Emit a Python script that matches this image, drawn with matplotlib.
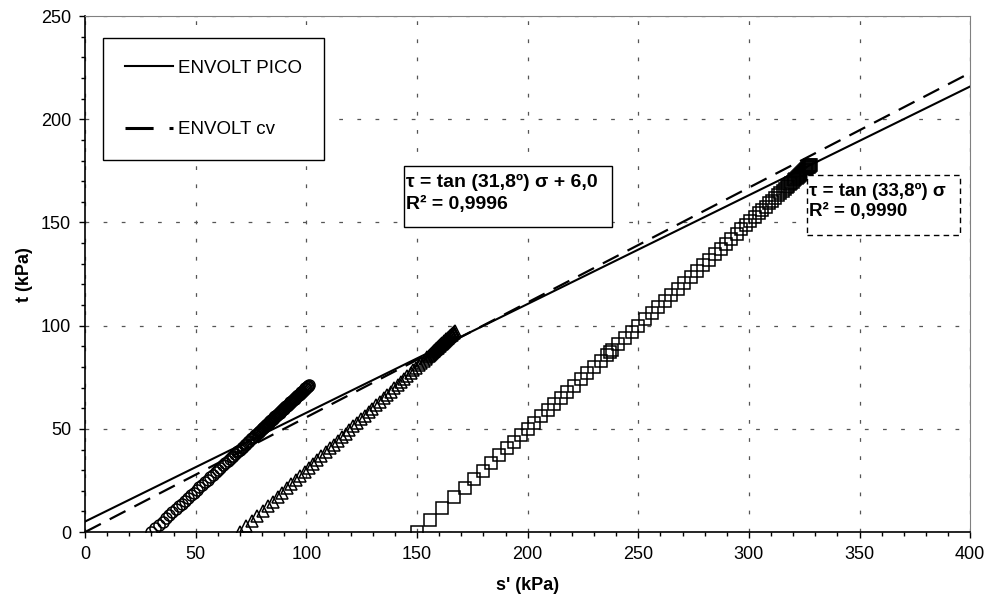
import matplotlib
matplotlib.use('Agg')
import matplotlib.pyplot as plt
from matplotlib.patches import Rectangle
from matplotlib.lines import Line2D
from matplotlib.ticker import MultipleLocator

plt.rcParams['font.family'] = ['Liberation Sans', 'DejaVu Sans']

# stress path 1 (circles), s' and t in kPa
circ_s = [30.0, 31.7, 33.4, 35.0, 36.6, 38.1, 39.5, 41.0, 42.4, 43.8,
          45.2, 46.5, 47.8, 49.1, 50.4, 51.7, 53.0, 54.2, 55.4, 56.6,
          57.8, 59.0, 60.1, 61.2, 62.3, 63.4, 64.5, 65.4, 66.2, 67.0,
          67.8, 68.6, 69.3, 70.0, 70.7, 71.4, 72.1, 72.8, 73.5, 74.2,
          74.9, 75.6, 76.3, 77.0, 77.6, 78.0, 78.4, 78.7, 79.1, 79.5,
          79.9, 80.3, 80.6, 81.0, 81.4, 81.8, 82.2, 82.5, 82.9, 83.3,
          83.7, 84.1, 84.4, 84.8, 85.2, 85.6, 86.0, 86.3, 86.7, 87.1,
          87.5, 87.9, 88.2, 88.6, 89.0, 89.4, 89.8, 90.1, 90.5, 90.9,
          91.3, 91.7, 92.0, 92.4, 92.8, 93.2, 93.6, 93.9, 94.3, 94.7,
          95.1, 95.5, 95.8, 96.2, 96.6, 97.0, 97.4, 97.7, 98.1, 98.5,
          98.9, 99.3, 99.6, 100.0, 100.3, 100.6, 100.9, 101.1]
circ_t = [0.0, 1.8, 3.5, 5.1, 6.6, 8.1, 9.6, 11.0, 12.4, 13.8,
          15.2, 16.5, 17.8, 19.1, 20.4, 21.7, 23.0, 24.2, 25.4, 26.6,
          27.8, 29.0, 30.1, 31.2, 32.3, 33.4, 34.5, 35.4, 36.2, 37.0,
          37.8, 38.6, 39.3, 40.0, 40.7, 41.4, 42.1, 42.8, 43.5, 44.2,
          44.9, 45.6, 46.3, 47.0, 47.6, 48.0, 48.4, 48.7, 49.1, 49.5,
          49.9, 50.3, 50.6, 51.0, 51.4, 51.8, 52.2, 52.5, 52.9, 53.3,
          53.7, 54.1, 54.4, 54.8, 55.2, 55.6, 56.0, 56.3, 56.7, 57.1,
          57.5, 57.9, 58.2, 58.6, 59.0, 59.4, 59.8, 60.1, 60.5, 60.9,
          61.3, 61.7, 62.0, 62.4, 62.8, 63.2, 63.6, 63.9, 64.3, 64.7,
          65.1, 65.5, 65.8, 66.2, 66.6, 67.0, 67.4, 67.7, 68.1, 68.5,
          68.9, 69.3, 69.6, 70.0, 70.3, 70.6, 70.9, 71.1]

# stress path 2 (triangles)
tri_s = [70.0, 72.8, 75.4, 77.9, 80.3, 82.6, 84.8, 87.0, 89.1, 91.2,
         93.2, 95.2, 97.2, 99.2, 101.1, 103.0, 104.9, 106.8, 108.7, 110.5,
         112.3, 114.1, 115.9, 117.7, 119.5, 121.3, 123.0, 124.7, 126.4, 128.1,
         129.8, 131.5, 133.2, 134.9, 136.5, 138.1, 139.7, 141.3, 142.8, 144.3,
         145.7, 147.1, 148.4, 149.7, 150.9, 152.0, 153.0, 153.9, 154.7, 155.4,
         156.0, 156.4, 156.8, 157.2, 157.6, 157.9, 158.2, 158.5, 158.8, 159.1,
         159.4, 159.7, 160.0, 160.3, 160.6, 160.9, 161.2, 161.5, 161.8, 162.1,
         162.4, 162.7, 163.0, 163.3, 163.6, 163.9, 164.2, 164.5, 164.8, 165.1,
         165.4, 165.7, 166.0, 166.3, 166.6, 166.9, 167.2]
tri_t = [0.0, 2.8, 5.4, 7.9, 10.3, 12.6, 14.8, 17.0, 19.1, 21.2,
         23.2, 25.2, 27.2, 29.2, 31.1, 33.0, 34.9, 36.8, 38.7, 40.5,
         42.3, 44.1, 45.9, 47.7, 49.5, 51.3, 53.0, 54.7, 56.4, 58.1,
         59.8, 61.5, 63.2, 64.9, 66.5, 68.1, 69.7, 71.3, 72.8, 74.3,
         75.7, 77.1, 78.4, 79.7, 80.9, 82.0, 83.0, 83.9, 84.7, 85.4,
         86.0, 86.4, 86.8, 87.2, 87.6, 87.9, 88.2, 88.5, 88.8, 89.1,
         89.4, 89.7, 90.0, 90.3, 90.6, 90.9, 91.2, 91.5, 91.8, 92.1,
         92.4, 92.7, 93.0, 93.3, 93.6, 93.9, 94.2, 94.5, 94.8, 95.1,
         95.4, 95.7, 96.0, 96.3, 96.6, 96.9, 97.2]

# stress path 3 (squares)
sq_s = [150.0, 155.8, 161.5, 166.9, 171.5, 175.8, 179.8, 183.6, 187.2, 190.6,
        193.8, 196.9, 200.0, 203.0, 206.0, 209.0, 212.0, 215.0, 218.0, 221.0,
        224.0, 227.0, 230.0, 233.0, 236.0, 237.2, 238.2, 241.0, 244.0, 247.0,
        250.0, 253.0, 256.0, 259.0, 262.0, 265.0, 268.0, 270.8, 273.6, 276.4,
        279.2, 282.0, 284.6, 287.2, 289.7, 292.1, 294.4, 296.6, 298.7, 300.7,
        302.6, 304.4, 306.1, 307.7, 309.2, 310.6, 311.9, 313.1, 314.2, 315.2,
        316.1, 317.0, 317.8, 318.5, 319.2, 319.8, 320.4, 321.0, 321.6, 322.1,
        322.6, 323.1, 323.6, 324.0, 324.4, 324.8, 325.2, 325.6, 326.0, 326.4,
        326.8, 327.1, 327.4, 327.7, 328.0]
sq_t = [0.0, 5.8, 11.5, 16.9, 21.5, 25.8, 29.8, 33.6, 37.2, 40.6,
        43.8, 46.9, 50.0, 53.0, 56.0, 59.0, 62.0, 65.0, 68.0, 71.0,
        74.0, 77.0, 80.0, 83.0, 86.0, 87.2, 88.2, 91.0, 94.0, 97.0,
        100.0, 103.0, 106.0, 109.0, 112.0, 115.0, 118.0, 120.8, 123.6, 126.4,
        129.2, 132.0, 134.6, 137.2, 139.7, 142.1, 144.4, 146.6, 148.7, 150.7,
        152.6, 154.4, 156.1, 157.7, 159.2, 160.6, 161.9, 163.1, 164.2, 165.2,
        166.1, 167.0, 167.8, 168.5, 169.2, 169.8, 170.4, 171.0, 171.6, 172.1,
        172.6, 173.1, 173.6, 174.0, 174.4, 174.8, 175.2, 175.6, 176.0, 176.4,
        176.8, 177.1, 177.4, 177.7, 178.0]

# failure envelopes
env_s = [0, 400]
pico_t = [5.1, 215.9]
cv_t = [0.0, 222.5]

fig = plt.figure(figsize=(9.89, 6.06), dpi=100)
ax = fig.add_axes([0.086, 0.122, 0.895, 0.8515])

mk = dict(linestyle='none', markerfacecolor='none', markeredgecolor='black', markeredgewidth=1.1)
ax.plot(circ_s, circ_t, marker='o', markersize=8, **mk)
ax.plot(tri_s, tri_t, marker='^', markersize=9, **mk)
ax.plot(sq_s, sq_t, marker='s', markersize=8.5, **mk)

ax.plot(env_s, pico_t, color='black', lw=1.5)
ax.plot(env_s, cv_t, color='black', lw=1.6, dashes=(8, 4.5))

ax.set_xlim(0, 400)
ax.set_ylim(0, 250)
ax.xaxis.set_major_locator(MultipleLocator(50))
ax.xaxis.set_minor_locator(MultipleLocator(10))
ax.yaxis.set_major_locator(MultipleLocator(50))
ax.yaxis.set_minor_locator(MultipleLocator(10))
ax.grid(True, which='major', color='#555555', linestyle=(0, (3, 11.5)), linewidth=0.9)
ax.tick_params(which='major', direction='out', length=4, width=1, labelsize=13, pad=6)
ax.tick_params(which='minor', direction='out', length=3, width=1)
for side in ['top', 'right']:
    ax.spines[side].set_color('#808080')
for side in ['left', 'bottom']:
    ax.spines[side].set_linewidth(1.2)

ax.set_xlabel("s' (kPa)", fontsize=13, fontweight='bold', labelpad=10)
ax.set_ylabel('t (kPa)', fontsize=13, fontweight='bold', labelpad=5.5)

# legend handles (the cv handle shows a long and a short dash, as in the original)
h_pico = Line2D([], [], color='black', lw=1.5)
h_cv = Line2D([], [], color='black', lw=2.2, dashes=(9.2, 5.2))
leg = ax.legend([h_pico, h_cv], ['ENVOLT PICO', 'ENVOLT cv'],
                loc='upper left', bbox_to_anchor=(0.0203, 0.957), borderaxespad=0,
                fontsize=13.5, frameon=True, fancybox=False, shadow=False,
                borderpad=1.15, labelspacing=2.35, handlelength=2.6, handletextpad=0.25)
leg.get_frame().set_edgecolor('black')
leg.get_frame().set_linewidth(1.0)
leg.get_frame().set_alpha(1)

# equation boxes
ax.add_patch(Rectangle((0.3605, 0.591), 0.235, 0.118, transform=ax.transAxes,
                       facecolor='white', edgecolor='black', lw=1.0, zorder=5))
ax.text(0.3627, 0.656, 'τ = tan (31,8º) σ + 6,0\nR² = 0,9996', transform=ax.transAxes,
        fontsize=14, fontweight='bold', ha='left', va='center', linespacing=1.4, zorder=6)

ax.add_patch(Rectangle((0.8158, 0.5756), 0.1729, 0.1163, transform=ax.transAxes,
                       facecolor='white', edgecolor='black', lw=1.0, linestyle=(0, (4, 3)), zorder=5))
ax.text(0.818, 0.641, 'τ = tan (33,8º) σ\nR² = 0,9990', transform=ax.transAxes,
        fontsize=13.5, fontweight='bold', ha='left', va='center', zorder=6)

fig.savefig('out.png', dpi=100)
